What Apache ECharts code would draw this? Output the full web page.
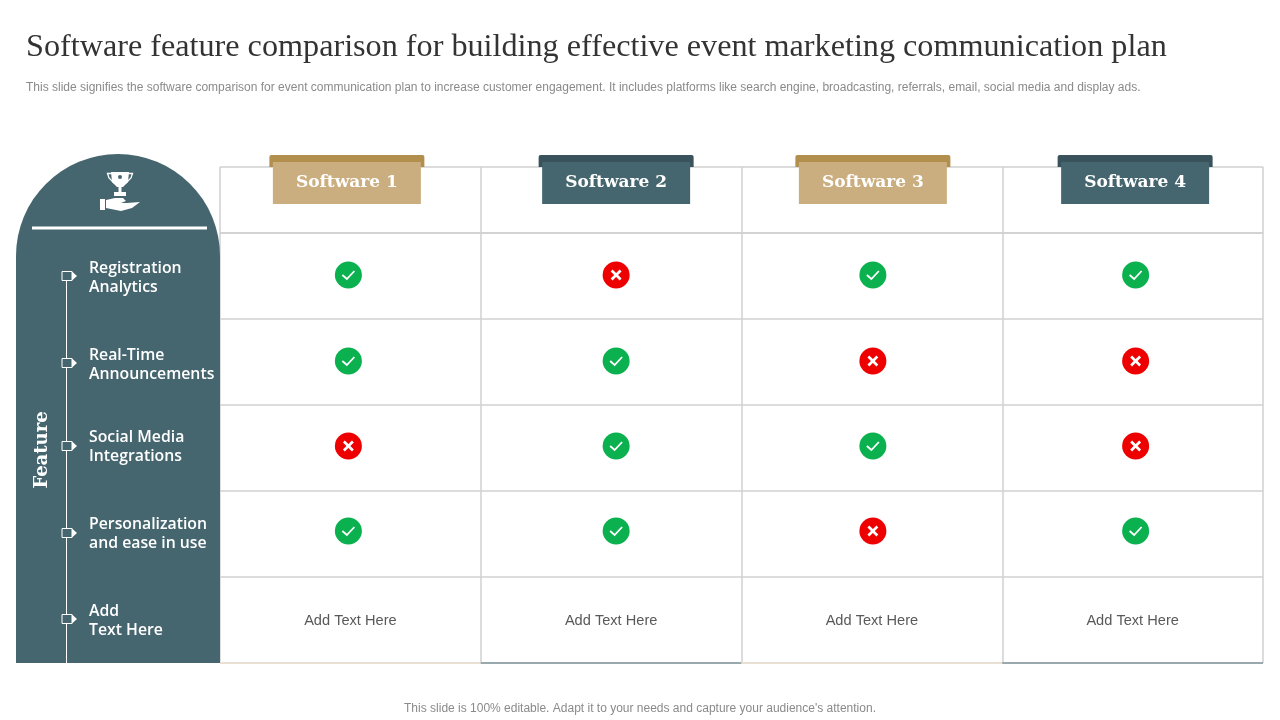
<!DOCTYPE html>
<html>
<head>
<meta charset="utf-8">
<title>Software feature comparison</title>
<style>
  html, body { margin: 0; padding: 0; background: #fff; }
  #main { width: 1280px; height: 720px; }
</style>
<script src="https://cdn.jsdelivr.net/npm/echarts@6/dist/echarts.min.js"></script>
</head>
<body>
<div id="main"></div>
<script>
const titleText = 'Software feature comparison for building effective event marketing communication plan';
const subText = 'This slide signifies the software comparison for event communication plan to increase customer engagement. It includes platforms like search engine, broadcasting, referrals, email, social media and display ads.';
const footText = "This slide is 100% editable. Adapt it to your needs and capture your audience's attention.";

const softwares = ['Software 1', 'Software 2', 'Software 3', 'Software 4'];
const features = ['Registration\nAnalytics', 'Real-Time\nAnnouncements', 'Social Media\nIntegrations', 'Personalization\nand ease in use', 'Add\nText Here'];
// 1 = tick, 0 = cross, one row per feature
const software1 = [1, 1, 0, 1];
const software2 = [0, 1, 1, 1];
const software3 = [1, 0, 1, 0];
const software4 = [1, 0, 0, 1];
const noteText = 'Add Text Here';

// the slide is hand placed, marks sit a few px off the cell centres
const iconNudgeX = [-2, 5, 1, 3];
const iconNudgeY = [-1, -1, -2, -3];
const headerNudgeX = [-3.5, 5, 1, 2.5];
const labelNudgeY = [2, 3, -1, 0, 1];
const markerNudgeY = [0, 1, -2, -1, -1];

const TEAL = '#46666f', TEAL_DARK = '#3a525c', TAN = '#cbae7f', TAN_DARK = '#b38f4e';
const GRID_LINE = '#d0d0d0';

const statusRows = [];
[software1, software2, software3, software4].forEach((list, col) => {
  list.forEach((v, row) => statusRows.push([col, row, v]));
});

function renderStatus(params, api) {
  const col = api.value(0), row = api.value(1), ok = api.value(2);
  const p = api.coord([col, row]);
  const x = p[0] + iconNudgeX[col], y = p[1] + iconNudgeY[row];
  const lineStyle = { stroke: '#fff', lineWidth: ok ? 1.8 : 2.6, fill: null };
  const children = [{ type: 'circle', shape: { cx: x, cy: y, r: 13.5 }, style: { fill: ok ? '#0bb04f' : '#ef0000' } }];
  if (ok) {
    children.push({ type: 'polyline', shape: { points: [[x - 6, y], [x - 1.5, y + 4], [x + 6, y - 4]] }, style: lineStyle });
  } else {
    children.push({ type: 'line', shape: { x1: x - 4.5, y1: y - 4.5, x2: x + 4.5, y2: y + 4.5 }, style: lineStyle });
    children.push({ type: 'line', shape: { x1: x + 4.5, y1: y - 4.5, x2: x - 4.5, y2: y + 4.5 }, style: lineStyle });
  }
  return { type: 'group', children: children };
}

function renderHeader(params, api) {
  const i = api.value(0);
  const p = api.coord([i, 0]);
  const x = p[0] + headerNudgeX[i];
  const odd = i % 2 === 0;
  return {
    type: 'group',
    children: [
      { type: 'rect', shape: { x: x - 77.5, y: 155, width: 155, height: 12, r: [2, 2, 0, 0] }, style: { fill: odd ? TAN_DARK : TEAL_DARK } },
      { type: 'rect', shape: { x: x - 74, y: 162, width: 148, height: 42 }, style: { fill: odd ? TAN : TEAL } },
      { type: 'text', style: { text: softwares[i], x: x, y: 183, align: 'center', verticalAlign: 'middle', fill: '#fff', font: 'bold 17px "DejaVu Serif"' } }
    ]
  };
}

function renderNote(params, api) {
  const i = api.value(0);
  const p = api.coord([i, 4]);
  return {
    type: 'text',
    style: { text: noteText, x: p[0], y: p[1] + 1, align: 'center', verticalAlign: 'middle', fill: '#595959', font: '14.6px "Liberation Sans"' }
  };
}

function renderBottomEdge(params, api) {
  const i = api.value(0);
  const p = api.coord([i, 4]);
  const s = api.size([1, 1]);
  const y = p[1] + s[1] / 2;
  return {
    type: 'line',
    shape: { x1: p[0] - s[0] / 2, y1: y, x2: p[0] + s[0] / 2, y2: y },
    style: { stroke: i % 2 === 0 ? '#e9dfd2' : '#9aa9ad', lineWidth: 2 }
  };
}

function renderFeature(params, api) {
  const row = api.value(0);
  const p = api.coord([0, row]);
  const my = p[1] + markerNudgeY[row];
  return {
    type: 'group',
    children: [
      { type: 'rect', shape: { x: 62, y: my - 4.5, width: 10, height: 9 }, style: { fill: TEAL, stroke: '#fff', lineWidth: 1 } },
      { type: 'polygon', shape: { points: [[72, my - 4.5], [77, my], [72, my + 4.5]] }, style: { fill: '#fff' } },
      { type: 'text', style: { text: features[row], x: 89, y: p[1] + labelNudgeY[row], align: 'left', verticalAlign: 'middle', lineHeight: 19, fill: '#fff', font: '600 15.8px "Open Sans"' } }
    ]
  };
}

const chart = echarts.init(document.getElementById('main'), null, { renderer: 'canvas' });

const gridSplit = { show: true, lineStyle: { color: GRID_LINE, width: 1.5 } };
const hiddenBits = { axisLine: { show: false }, axisTick: { show: false }, axisLabel: { show: false } };

const option = {
  backgroundColor: '#fff',
  animation: false,
  title: [
    { text: titleText, left: 21, top: 27, textStyle: { fontFamily: 'Liberation Serif', fontWeight: 'normal', fontSize: 32.2, color: '#333' } },
    { text: subText, left: 21, top: 77, textStyle: { fontFamily: 'Liberation Sans', fontWeight: 'normal', fontSize: 12, color: '#8a8a8a' } },
    { text: footText, left: 'center', top: 698, textStyle: { fontFamily: 'Liberation Sans', fontWeight: 'normal', fontSize: 12, color: '#8a8a8a' } }
  ],
  grid: [
    { left: 220, right: 17, top: 167, height: 66 },
    { left: 220, right: 17, top: 233, height: 430 }
  ],
  xAxis: [
    { type: 'category', gridIndex: 0, data: softwares, splitLine: gridSplit, ...hiddenBits },
    { type: 'category', gridIndex: 1, data: softwares, splitLine: gridSplit, ...hiddenBits }
  ],
  yAxis: [
    { type: 'category', gridIndex: 0, data: [''], splitLine: gridSplit, ...hiddenBits },
    { type: 'category', gridIndex: 1, data: features, inverse: true, splitLine: gridSplit, ...hiddenBits }
  ],
  graphic: [
    { type: 'circle', z: 1, shape: { cx: 118, cy: 256, r: 102 }, style: { fill: TEAL } },
    { type: 'rect', z: 1, shape: { x: 16, y: 256, width: 204, height: 407 }, style: { fill: TEAL } },
    { type: 'rect', z: 2, shape: { x: 32, y: 226.5, width: 175, height: 3 }, style: { fill: '#fff' } },
    { type: 'line', z: 2, shape: { x1: 66.5, y1: 272, x2: 66.5, y2: 663 }, style: { stroke: '#fff', lineWidth: 1 } },
    // trophy on a hand
    { type: 'polygon', z: 2, shape: { points: [[111, 172], [129, 172], [128, 182], [123, 187], [117, 187], [112, 182]] }, style: { fill: '#fff' } },
    { type: 'polyline', z: 2, shape: { points: [[112, 173.5], [107.5, 173.5], [109, 178], [114, 183]] }, style: { stroke: '#fff', lineWidth: 1.3, fill: null } },
    { type: 'polyline', z: 2, shape: { points: [[128, 173.5], [132.5, 173.5], [131, 178], [126, 183]] }, style: { stroke: '#fff', lineWidth: 1.3, fill: null } },
    { type: 'rect', z: 2, shape: { x: 118.5, y: 187, width: 3, height: 5 }, style: { fill: '#fff' } },
    { type: 'rect', z: 2, shape: { x: 114, y: 192, width: 12, height: 4 }, style: { fill: '#fff' } },
    { type: 'circle', z: 3, shape: { cx: 120, cy: 177, r: 2 }, style: { fill: TEAL } },
    { type: 'rect', z: 2, shape: { x: 100, y: 199, width: 5, height: 11 }, style: { fill: '#fff' } },
    { type: 'polygon', z: 2, shape: { points: [[106, 200], [115, 198], [123, 198], [126, 201], [121, 203], [127, 203], [140, 202], [132, 208], [121, 211], [106, 208]] }, style: { fill: '#fff' } },
    { type: 'text', z: 3, rotation: Math.PI / 2, x: 42, y: 450, style: { text: 'Feature', align: 'center', verticalAlign: 'middle', fill: '#fff', font: 'bold 18px "DejaVu Serif"' } }
  ],
  series: [
    { type: 'custom', name: 'status', xAxisIndex: 1, yAxisIndex: 1, z: 10, clip: false, silent: true, data: statusRows, encode: { x: 0, y: 1 }, renderItem: renderStatus },
    { type: 'custom', name: 'notes', xAxisIndex: 1, yAxisIndex: 1, z: 10, clip: false, silent: true, data: softwares.map((s, i) => [i]), encode: { x: 0 }, renderItem: renderNote },
    { type: 'custom', name: 'bottom', xAxisIndex: 1, yAxisIndex: 1, z: 9, clip: false, silent: true, data: softwares.map((s, i) => [i]), encode: { x: 0 }, renderItem: renderBottomEdge },
    { type: 'custom', name: 'headers', xAxisIndex: 0, yAxisIndex: 0, z: 10, clip: false, silent: true, data: softwares.map((s, i) => [i]), encode: { x: 0 }, renderItem: renderHeader },
    { type: 'custom', name: 'features', xAxisIndex: 1, yAxisIndex: 1, z: 10, clip: false, silent: true, data: features.map((f, i) => [i]), encode: { y: 0 }, renderItem: renderFeature }
  ]
};

chart.setOption(option);
</script>
</body>
</html>
